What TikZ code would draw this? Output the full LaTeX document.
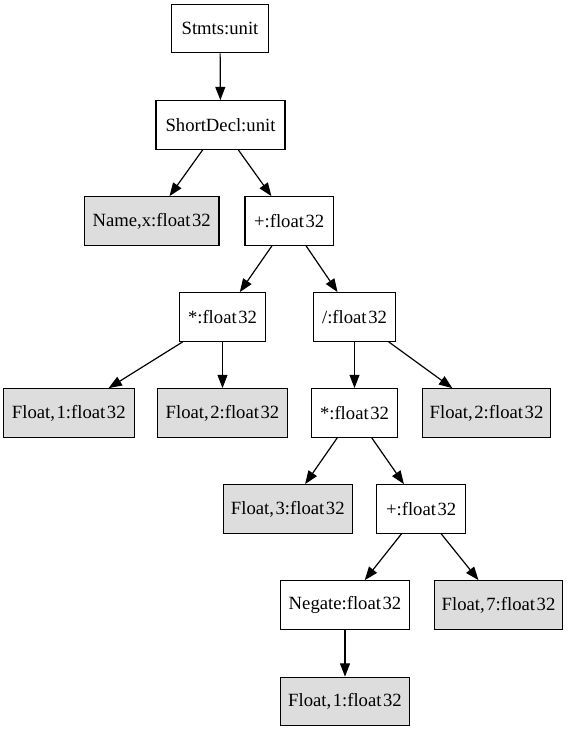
\documentclass[tikz,border=0pt]{standalone}
\usepackage{fontspec}
\setmainfont{Liberation Serif}
\usetikzlibrary{arrows.meta}
\definecolor{leafgray}{RGB}{221,221,221}
\newcommand{\fl}{float\kern1.2pt 32}
\newcommand{\flt}[1]{Float,\kern1.2pt #1:\fl}
\begin{document}
\begin{tikzpicture}[x=0.75pt,y=-0.75pt,
  astnode/.style={draw=black,line width=0.9pt,rectangle,minimum height=36.4pt,
    inner sep=0pt,font=\fontsize{14pt}{16pt}\selectfont,fill=white},
  leaf/.style={astnode,fill=leafgray},
  edge/.style={line width=0.9pt,-{Triangle[length=10pt,width=7.5pt]}}]
\useasboundingbox (0,0) rectangle (568,731);
% tree nodes, rows 96px apart
\node[astnode,minimum width=72.5pt] (stmts) at (220,28.5) {Stmts:unit};
\node[astnode,minimum width=96.8pt] (decl) at (220.5,125) {ShortDecl:unit};
\node[leaf,minimum width=101pt] (name) at (151.7,221) {Name,x:\fl};
\node[astnode,minimum width=66.2pt] (add1) at (289.2,221) {+:\fl};
\node[astnode,minimum width=64.8pt] (mul1) at (222.5,317) {*:\fl};
\node[astnode,minimum width=61.8pt] (div) at (354.5,317) {/:\fl};
\node[leaf,minimum width=98.2pt] (f1a) at (68.8,413) {\flt{1}};
\node[leaf,minimum width=97.2pt] (f2a) at (222.5,413) {\flt{2}};
\node[astnode,minimum width=64.2pt] (mul2) at (354.5,413) {*:\fl};
\node[leaf,minimum width=96.3pt] (f2b) at (486.5,413) {\flt{2}};
\node[leaf,minimum width=96.8pt] (f3) at (287.8,509) {\flt{3}};
\node[astnode,minimum width=66.8pt] (add2) at (421.2,509) {+:\fl};
\node[astnode,minimum width=96.5pt] (neg) at (345,605) {Negate:\fl};
\node[leaf,minimum width=96.3pt] (f7) at (498.5,605) {\flt{7}};
\node[leaf,minimum width=96.3pt] (f1b) at (345,701.5) {\flt{1}};
% parent-to-child edges
\draw[edge] (stmts) -- (decl);
\draw[edge] (decl) -- (name);
\draw[edge] (decl) -- (add1);
\draw[edge] (add1) -- (mul1);
\draw[edge] (add1) -- (div);
\draw[edge] (mul1) -- (f1a);
\draw[edge] (mul1) -- (f2a);
\draw[edge] (div) -- (mul2);
\draw[edge] (div) -- (f2b);
\draw[edge] (mul2) -- (f3);
\draw[edge] (mul2) -- (add2);
\draw[edge] (add2) -- (neg);
\draw[edge] (add2) -- (f7);
\draw[edge] (neg) -- (f1b);
\end{tikzpicture}
\end{document}
